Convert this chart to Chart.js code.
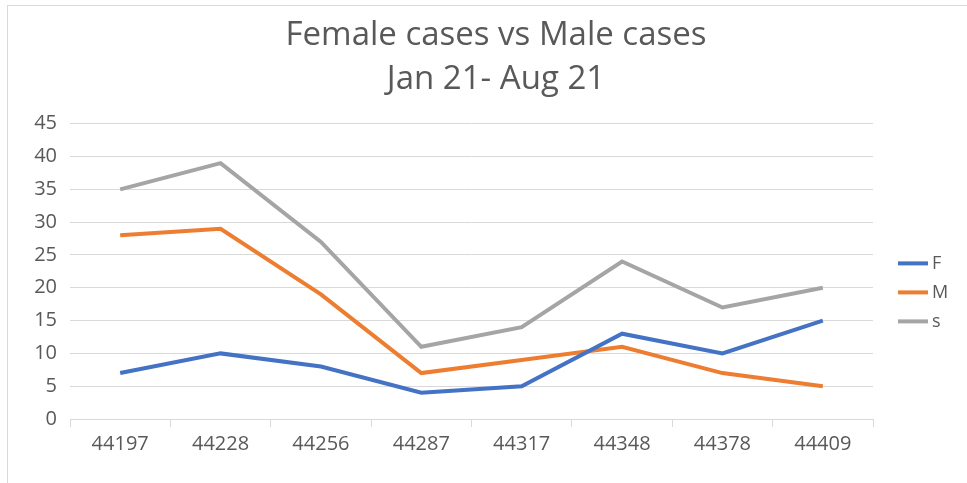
<!DOCTYPE html>
<html>
<head>
<meta charset="utf-8">
<script src="https://cdn.jsdelivr.net/npm/chart.js@4"></script>
<style>
  html, body { margin: 0; padding: 0; background: #fff; }
  #wrap { position: relative; width: 967px; height: 483px; }
  #frame { position: absolute; left: 7px; top: 5px; width: 980px; height: 500px;
           border-left: 1px solid #d9d9d9; border-top: 1px solid #d9d9d9; }
  canvas { position: absolute; left: 0; top: 0; }
</style>
</head>
<body>
<div id="wrap">
  <div id="frame"></div>
  <canvas id="chart" width="967" height="483"></canvas>
</div>
<script>
// ---- data ----
const labels = ['44197','44228','44256','44287','44317','44348','44378','44409'];
const femaleVals = [7, 10, 8, 4, 5, 13, 10, 15];
const maleVals   = [28, 29, 19, 7, 9, 11, 7, 5];
const sVals      = [35, 39, 27, 11, 14, 24, 17, 20];
const titleLines = ['Female cases vs Male cases', 'Jan 21- Aug 21'];

const FONT = "'Open Sans', sans-serif";
const TXT = '#595959';

const mk = (label, data, color) => ({
  label, data,
  borderColor: color, backgroundColor: color,
  borderWidth: 4, pointRadius: 0, tension: 0,
  borderCapStyle: 'butt', borderJoinStyle: 'miter'
});

// legend on the right, drawn by hand (office-style, short thick line + label)
const sideLegend = {
  id: 'sideLegend',
  afterDraw(chart) {
    const { ctx, chartArea } = chart;
    const sets = chart.data.datasets;
    const x0 = chartArea.right + 25;
    const gap = 29;
    const mid = (chartArea.top + chartArea.bottom) / 2 + 21;
    let y = mid - gap * (sets.length - 1) / 2;
    ctx.save();
    ctx.font = `18px ${FONT}`;
    ctx.textBaseline = 'middle';
    sets.forEach(ds => {
      ctx.strokeStyle = ds.borderColor;
      ctx.lineWidth = 4;
      ctx.beginPath();
      ctx.moveTo(x0, y);
      ctx.lineTo(x0 + 30, y);
      ctx.stroke();
      ctx.fillStyle = TXT;
      ctx.fillText(ds.label, x0 + 34, y);
      y += gap;
    });
    ctx.restore();
  }
};

const ctx = document.getElementById('chart').getContext('2d');
new Chart(ctx, {
  type: 'line',
  data: {
    labels,
    datasets: [
      mk('F', femaleVals, '#4472C4'),
      mk('M', maleVals, '#ED7D31'),
      mk('s', sVals, '#A5A5A5')
    ]
  },
  options: {
    responsive: false,
    animation: false,
    layout: { padding: { left: 25, right: 0, top: 14, bottom: 27 } },
    plugins: {
      title: {
        display: true, text: titleLines, color: TXT,
        font: { family: FONT, size: 33, weight: 'normal', lineHeight: 1.33 },
        padding: { top: 0, bottom: 22 }
      },
      legend: { display: false },
      tooltip: { enabled: false }
    },
    scales: {
      x: {
        offset: true,
        grid: { display: true, drawOnChartArea: false, offset: true, tickLength: 8, color: '#d9d9d9' },
        border: { color: '#d9d9d9', width: 1 },
        ticks: { color: TXT, font: { family: FONT, size: 20 }, padding: 5, maxRotation: 0 },
        afterFit: (s) => { s.height = 37; }
      },
      y: {
        min: 0, max: 45,
        ticks: { stepSize: 5, color: TXT, font: { family: FONT, size: 20 }, padding: 13 },
        grid: { color: '#d9d9d9', lineWidth: 1, drawTicks: false },
        border: { display: false },
        afterFit: (s) => { s.width = 45; }
      },
      // empty right-hand axis only reserves room for the legend
      yRight: {
        position: 'right', display: true,
        grid: { display: false }, border: { display: false },
        ticks: { display: false },
        afterFit: (s) => { s.width = 94; }
      }
    }
  },
  plugins: [sideLegend]
});
</script>
</body>
</html>
